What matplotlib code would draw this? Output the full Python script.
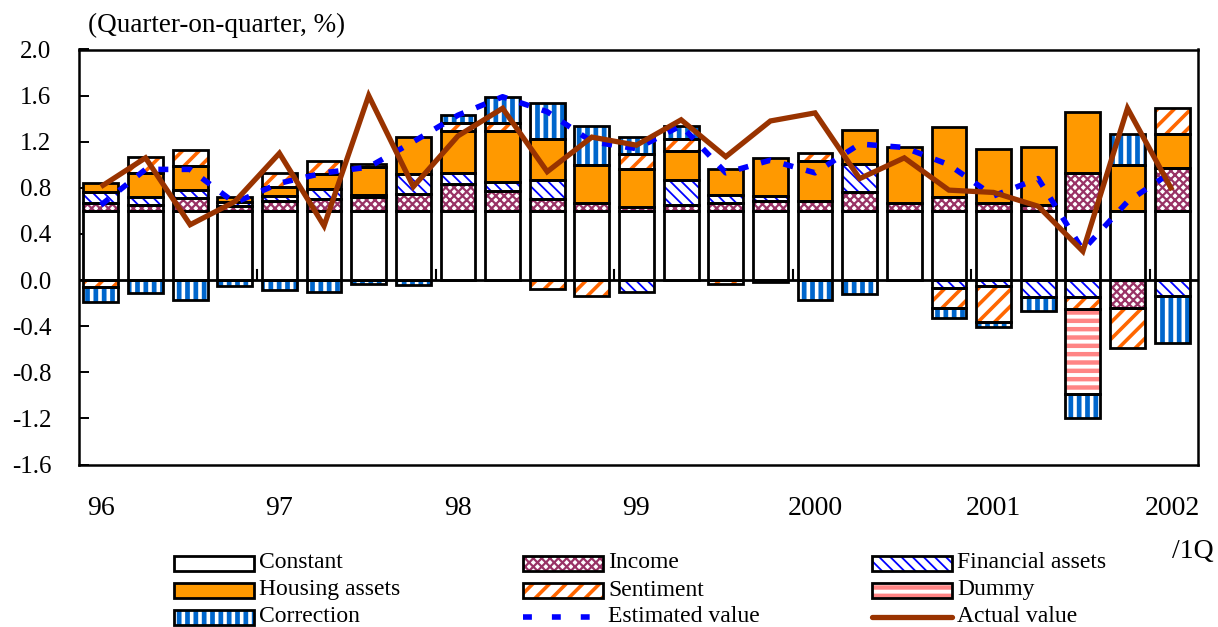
import matplotlib
matplotlib.use("Agg")
import matplotlib.pyplot as plt
import matplotlib.transforms as mtransforms
from matplotlib.patches import Rectangle
from matplotlib.lines import Line2D
import numpy as np

plt.rcParams['font.family'] = ['Liberation Serif', 'DejaVu Serif']

# ---- data: quarterly contributions, 1996Q1 .. 2002Q1 (percentage points) ----
year_labels = ["96", "97", "98", "99", "2000", "2001", "2002"]
y_ticks = [-1.6, -1.2, -0.8, -0.4, 0.0, 0.4, 0.8, 1.2, 1.6, 2.0]

constant = [0.60, 0.60, 0.60, 0.60, 0.60, 0.60, 0.60, 0.60, 0.60, 0.60, 0.60, 0.60, 0.60,
            0.60, 0.60, 0.60, 0.60, 0.60, 0.60, 0.60, 0.60, 0.60, 0.60, 0.60, 0.60]
income = [0.07, 0.05, 0.11, 0.04, 0.09, 0.10, 0.12, 0.15, 0.23, 0.17, 0.10, 0.07, 0.03,
          0.05, 0.07, 0.09, 0.09, 0.16, 0.07, 0.12, 0.07, 0.05, 0.33, -0.24, 0.37]
financial = [0.09, 0.07, 0.07, 0.04, 0.04, 0.09, 0.02, 0.17, 0.10, 0.08, 0.17, 0.00, -0.10,
             0.22, 0.07, 0.04, 0.00, 0.25, 0.00, -0.07, -0.05, -0.15, -0.15, 0.00, -0.14]
housing = [0.08, 0.21, 0.21, 0.04, 0.08, 0.13, 0.24, 0.32, 0.36, 0.44, 0.35, 0.33, 0.33,
           0.25, 0.22, 0.33, 0.34, 0.29, 0.48, 0.61, 0.47, 0.50, 0.53, 0.40, 0.30]
sentiment = [-0.06, 0.14, 0.14, 0.00, 0.12, 0.11, 0.03, 0.00, 0.07, 0.07, -0.08, -0.14, 0.13,
             0.10, -0.03, 0.00, 0.07, 0.00, 0.00, -0.17, -0.31, 0.00, -0.10, -0.35, 0.22]
dummy = [0.00, 0.00, 0.00, 0.00, 0.00, 0.00, 0.00, 0.00, 0.00, 0.00, 0.00, 0.00, 0.00,
         0.00, 0.00, 0.00, 0.00, 0.00, 0.00, 0.00, 0.00, 0.00, -0.74, 0.00, 0.00]
correction = [-0.13, -0.11, -0.17, -0.05, -0.09, -0.10, -0.03, -0.04, 0.07, 0.23, 0.32, 0.34, 0.15,
              0.12, 0.00, -0.02, -0.17, -0.12, 0.00, -0.09, -0.05, -0.12, -0.21, 0.27, -0.41]
estimated = [0.65, 0.96, 0.96, 0.67, 0.84, 0.93, 0.98, 1.20, 1.43, 1.59, 1.46, 1.20, 1.14,
             1.34, 0.93, 1.04, 0.93, 1.18, 1.15, 1.00, 0.73, 0.88, 0.26, 0.68, 0.94]
actual = [0.81, 1.06, 0.48, 0.68, 1.10, 0.47, 1.60, 0.81, 1.25, 1.49, 0.94, 1.24, 1.17,
          1.39, 1.07, 1.38, 1.45, 0.88, 1.06, 0.78, 0.76, 0.64, 0.25, 1.49, 0.78]

# ---- styles ----
ORANGE = "#FF9900"
styles = {
    "Constant":          dict(face="white", hatch=None, hcolor=None, hlw=0),
    "Income":            dict(face="white", hatch="xxxx", hcolor="#993366", hlw=1.6),
    "Financial assets":  dict(face="white", hatch="\\\\\\", hcolor="#0000FF", hlw=1.3),
    "Housing assets":    dict(face=ORANGE, hatch=None, hcolor=None, hlw=0),
    "Sentiment":         dict(face="white", hatch="//", hcolor="#FF6600", hlw=2.6),
    "Dummy":             dict(face="white", hatch="--", hcolor="#FF8585", hlw=3.2),
    "Correction":        dict(face="white", hatch="||", hcolor="#0066CC", hlw=3.4),
}
series = [
    ("Constant", constant),
    ("Income", income),
    ("Financial assets", financial),
    ("Housing assets", housing),
    ("Sentiment", sentiment),
    ("Dummy", dummy),
    ("Correction", correction),
]

W_PX, H_PX = 1218, 627
fig = plt.figure(figsize=(W_PX / 100, H_PX / 100), dpi=100)
ax = fig.add_axes([79 / W_PX, 1 - 464.5 / H_PX, (1198 - 79) / W_PX, (464.5 - 49.5) / H_PX])

BAR_W = 0.78
EDGE_LW = 2.0


def apply_hatch_lw(patches, lw):
    for p in patches:
        if hasattr(p, "set_hatch_linewidth"):
            p.set_hatch_linewidth(lw)


def fill_rects(draw, st):
    """Draw the filled/hatched layer of a set of rectangles."""
    if st["hatch"]:
        with plt.rc_context({"hatch.linewidth": st["hlw"]}):
            arts = draw(dict(facecolor="white", edgecolor=st["hcolor"],
                             hatch=st["hatch"], linewidth=0))
        apply_hatch_lw(arts, st["hlw"])
    else:
        draw(dict(facecolor=st["face"], edgecolor="none", linewidth=0))


n = len(actual)
x = np.arange(n)
pos_base = np.zeros(n)
neg_base = np.zeros(n)
for name, vals in series:
    v = np.asarray(vals, dtype=float)
    st = styles[name]
    bottom = np.where(v >= 0, pos_base, neg_base)
    m = v != 0
    if m.any():
        fill_rects(lambda kw: list(ax.bar(x[m], v[m], bottom=bottom[m], width=BAR_W,
                                          zorder=2, **kw)), st)
        ax.bar(x[m], v[m], bottom=bottom[m], width=BAR_W, fill=False,
               edgecolor="black", linewidth=EDGE_LW, zorder=2.5)
    pos_base += np.where(v > 0, v, 0)
    neg_base += np.where(v < 0, v, 0)

# zero line and year-boundary ticks
ax.axhline(0, color="black", linewidth=2.0, zorder=3)
for b in np.arange(3.5, n - 1, 4):
    ax.plot([b, b], [0, 0.085], color="black", linewidth=1.5, zorder=3)

# estimated and actual lines
ax.plot(x, estimated, color="#0000FF", linewidth=4.0, dashes=(1.8, 2.4),
        dash_capstyle="butt", zorder=4)
ax.plot(x, actual, color="#993300", linewidth=3.8, solid_joinstyle="miter",
        solid_capstyle="butt", zorder=5)

ax.set_xlim(-0.49, 24.58)
ax.set_ylim(-1.6, 2.0)
ax.set_xticks([])
ax.set_yticks(y_ticks)
ax.set_yticklabels([f"{t:.1f}" for t in y_ticks])
ax.tick_params(axis="y", direction="in", length=7, width=1.4, pad=20, labelsize=18)
for s in ax.spines.values():
    s.set_linewidth(1.8)

# year labels under the first quarter of each year
trans = mtransforms.blended_transform_factory(ax.transData, ax.transAxes)
for i, lab in enumerate(year_labels):
    ax.text(i * 4, -0.105, lab, transform=trans, ha="center", va="center", fontsize=20)

fig.text(1193 / W_PX, 1 - 552 / H_PX, "/1Q", ha="center", va="center", fontsize=20)
fig.text(88 / W_PX, 1 - 25 / H_PX, "(Quarter-on-quarter, %)", ha="left", va="center",
         fontsize=19.5)

# ---- legend, laid out in three columns ----
def fx(px):
    return px / W_PX


def fy(py):
    return 1 - py / H_PX


col_x = [174, 523, 872]
row_y = [563, 590, 617]
SW_W, SW_H = 80, 15
layout = [
    ["Constant", "Income", "Financial assets"],
    ["Housing assets", "Sentiment", "Dummy"],
    ["Correction", "Estimated value", "Actual value"],
]
for r, row in enumerate(layout):
    for c, name in enumerate(row):
        x0, yc = col_x[c], row_y[r]
        if name in styles:
            st = styles[name]
            rect_args = ((fx(x0), fy(yc + SW_H / 2)), fx(SW_W), SW_H / H_PX)

            def draw(kw, rect_args=rect_args):
                p = Rectangle(*rect_args, transform=fig.transFigure, **kw)
                fig.add_artist(p)
                return [p]

            fill_rects(draw, st)
            fig.add_artist(Rectangle(*rect_args, transform=fig.transFigure, fill=False,
                                     edgecolor="black", linewidth=EDGE_LW))
        elif name == "Estimated value":
            fig.add_artist(Line2D([fx(x0), fx(x0 + 69)], [fy(yc), fy(yc)],
                                  transform=fig.transFigure, color="#0000FF",
                                  linewidth=4.0, dashes=(1.6, 3.6), dash_capstyle="butt"))
        else:
            fig.add_artist(Line2D([fx(x0), fx(x0 + SW_W)], [fy(yc), fy(yc)],
                                  transform=fig.transFigure, color="#993300",
                                  linewidth=3.8, solid_capstyle="round"))
        fig.text(fx(x0 + SW_W + 5), fy(yc), name, ha="left", va="center", fontsize=17)

fig.savefig("out.png", dpi=100, facecolor="white")
